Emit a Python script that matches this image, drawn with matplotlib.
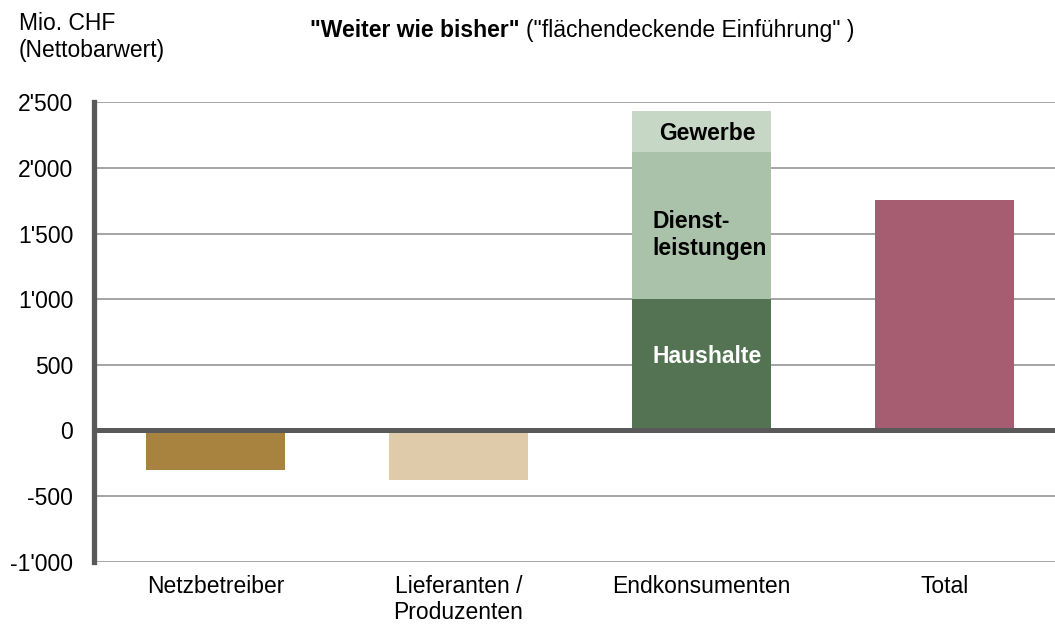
import matplotlib
matplotlib.use("Agg")
import matplotlib.pyplot as plt

# --- data (Mio. CHF, Nettobarwert) ---
categories = ["Netzbetreiber", "Lieferanten /\nProduzenten", "Endkonsumenten", "Total"]
netzbetreiber_value = -305
lieferanten_value = -375
segment_names = ["Haushalte", "Dienst-\nleistungen", "Gewerbe"]
segment_values = [1000, 1125, 310]
total_value = 1755
y_ticks = [-1000, -500, 0, 500, 1000, 1500, 2000, 2500]
y_tick_labels = ["-1'000", "-500", "0", "500", "1'000", "1'500", "2'000", "2'500"]

# --- style ---
FONT = "Liberation Sans"
FS = 16.5
AXIS_GREY = "#595959"
GRID_GREY = "#8c8c8c"
netz_color = "#a8833f"
lief_color = "#dfcbaa"
segment_colors = ["#537352", "#aac2aa", "#c6d7c6"]
segment_text_colors = ["white", "black", "black"]
# label placement inside the stacked bar: (x offset from bar centre, alignment, y shift in points)
segment_label_style = [(-0.2, "left", 6), (-0.2, "left", -7), (0.025, "center", -2)]
total_color = "#a65d72"
BAR_W = 0.572

plt.rcParams["font.family"] = [FONT, "DejaVu Sans"]

W, H = 1055, 625
fig = plt.figure(figsize=(W / 100, H / 100), dpi=100)
ax = fig.add_axes([94 / W, 63.3 / H, (W - 94) / W, 459.4 / H])

x = list(range(len(categories)))

ax.bar(x[0], netzbetreiber_value, width=BAR_W, color=netz_color, zorder=2)
ax.bar(x[1], lieferanten_value, width=BAR_W, color=lief_color, zorder=2)

bottom = 0
for name, val, col, tcol, (dx, ha, dy) in zip(segment_names, segment_values, segment_colors,
                                              segment_text_colors, segment_label_style):
    ax.bar(x[2], val, bottom=bottom, width=BAR_W, color=col, zorder=2)
    ax.annotate(name, xy=(x[2] + dx, bottom + val / 2), xytext=(0, dy),
                textcoords="offset points", ha=ha, va="center",
                fontsize=FS, fontweight="bold", color=tcol, zorder=5,
                linespacing=1.25)
    bottom += val

ax.bar(x[3], total_value, width=BAR_W, color=total_color, zorder=2)

# axes, grid and zero line
ax.set_xlim(-0.5, 3.455)
ax.set_ylim(-1000, 2500)
ax.set_yticks(y_ticks)
ax.set_yticklabels(y_tick_labels, fontsize=FS)
ax.set_xticks(x)
ax.set_xticklabels(categories, fontsize=FS, linespacing=1.2)
ax.tick_params(axis="both", length=0)
ax.tick_params(axis="y", pad=15)
ax.tick_params(axis="x", pad=9.5)

ax.set_axisbelow(True)
ax.yaxis.grid(True, color=GRID_GREY, linewidth=1.1)
ax.axhline(0, color=AXIS_GREY, linewidth=3.6, zorder=3)

for side in ("top", "right", "bottom"):
    ax.spines[side].set_visible(False)
ax.spines["left"].set_color(AXIS_GREY)
ax.spines["left"].set_linewidth(3.8)
ax.spines["left"].set_zorder(4)

# headings
fig.text(19 / W, 1 - 57 / H, "Mio. CHF\n(Nettobarwert)", ha="left", va="baseline",
         fontsize=FS, linespacing=1.25)
t1 = fig.text(310 / W, 1 - 37 / H, "\"Weiter wie bisher\"", ha="left", va="baseline",
              fontsize=FS, fontweight="bold")
ax.annotate("(\"flächendeckende Einführung\" )", xy=(1, 0), xycoords=t1,
            xytext=(5, 0), textcoords="offset points", ha="left", va="bottom",
            fontsize=FS, annotation_clip=False)

fig.savefig("out.png", dpi=100)
